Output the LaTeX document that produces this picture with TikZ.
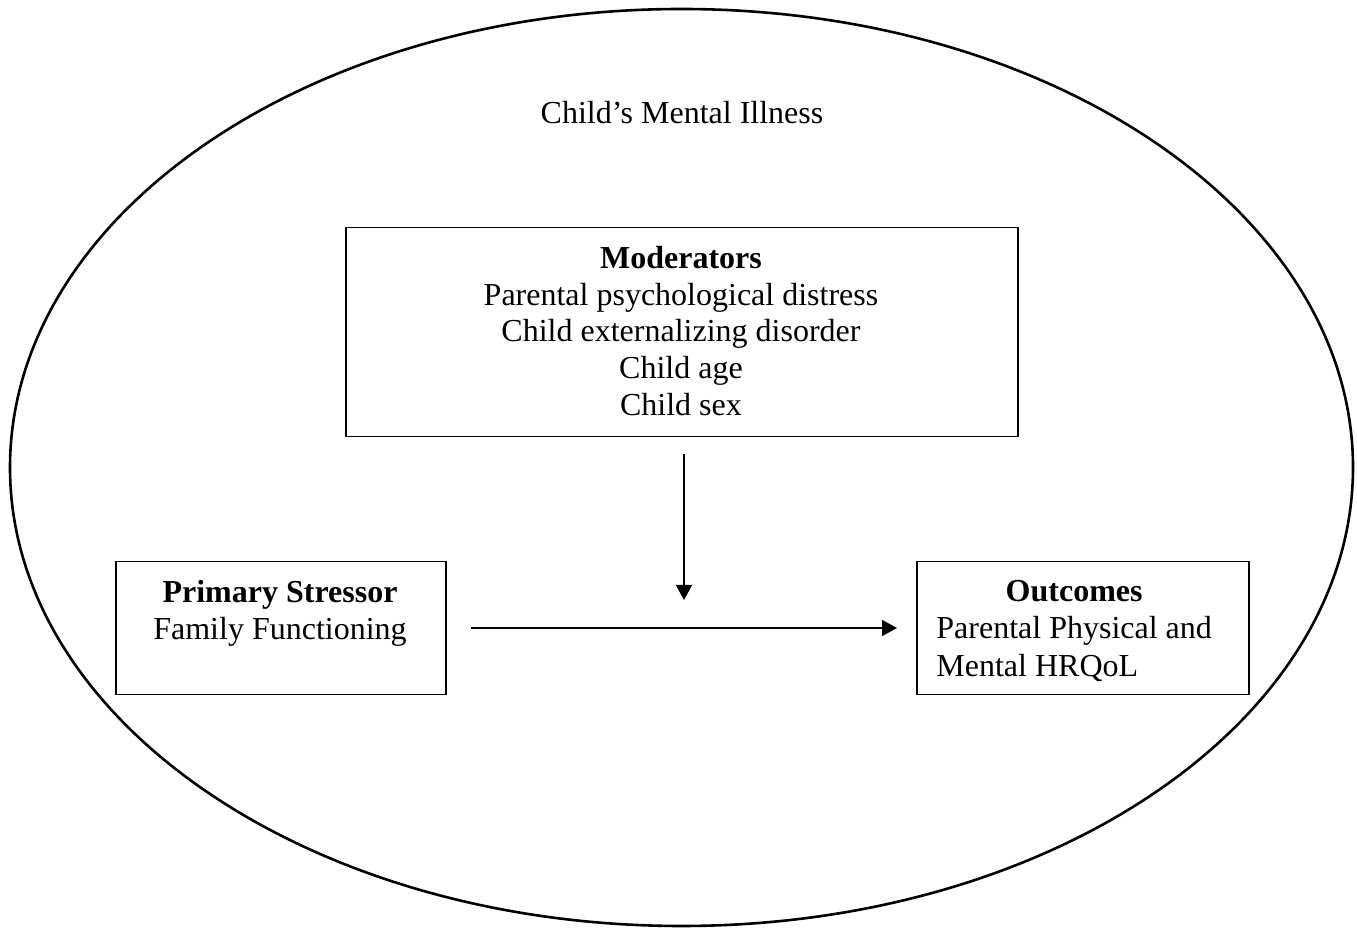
\documentclass[tikz,border=0pt]{standalone}
\usepackage{fontspec}
\setmainfont{Liberation Serif}
\usetikzlibrary{arrows.meta,shapes.geometric}
\begin{document}
\begin{tikzpicture}[x=0.5pt,y=-0.5pt,
  every node/.style={font=\fontsize{16}{18.4}\selectfont, inner sep=0pt},
  framebox/.style={draw, line width=0.75pt, anchor=north west},
  linetext/.style={align=center},
  conn/.style={line width=0.75pt, -{Triangle[length=7.5pt,width=8pt]}}]
\useasboundingbox (0,0) rectangle (1357,929);
\node[draw, line width=1.3pt, ellipse, minimum width=671.5pt, minimum height=458.5pt] (world) at (681.5,467.5) {};
\node (title) at (682,113) {Child’s Mental Illness};
% Moderators
\node[framebox, minimum width=336pt, minimum height=104.5pt] (mod) at (345,227) {};
\node[linetext] (modtext) at (681,331) {\textbf{Moderators}\\Parental psychological distress\\Child externalizing disorder\\Child age\\Child sex};
% Primary stressor
\node[framebox, minimum width=165pt, minimum height=66.5pt] (ps) at (115,561) {};
\node[linetext, anchor=north] (pstext) at (280,580) {\textbf{Primary Stressor}\\Family Functioning};
% Outcomes
\node[framebox, minimum width=166pt, minimum height=66.5pt] (out) at (916,561) {};
\node[anchor=north west] (outtext) at (936,575) {\begin{tabular}{@{}l@{}}\multicolumn{1}{@{}c@{}}{\textbf{Outcomes}}\\[0.5pt]Parental Physical and\\[0.5pt]Mental HRQoL\end{tabular}};
% connectors
\coordinate (modend) at (684,600);
\draw[conn, shorten <=8.5pt] (mod.south -| modend) -- (modend);
\draw[conn, shorten <=12pt, shorten >=9.5pt] (ps.east |- 0,628) -- (out.west |- 0,628);
\end{tikzpicture}
\end{document}
